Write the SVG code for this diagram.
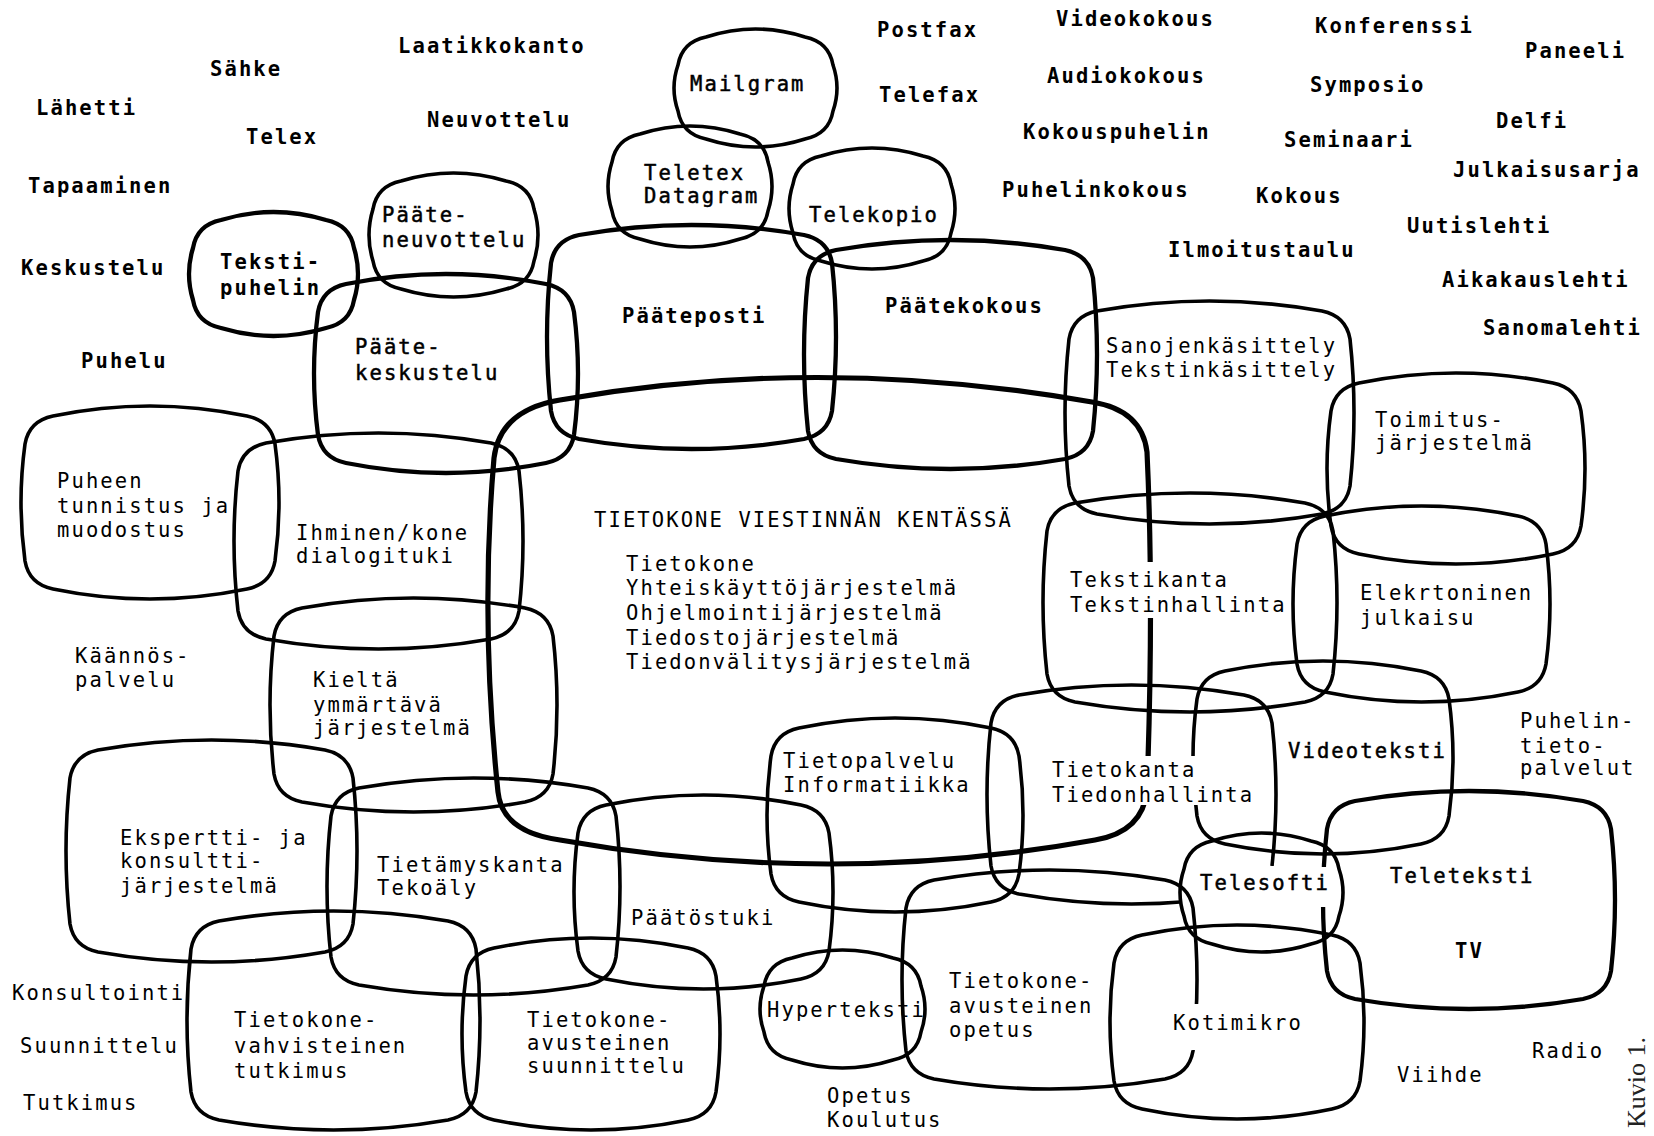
<svg xmlns="http://www.w3.org/2000/svg" width="1654" height="1136" viewBox="0 0 1654 1136">
<style>
.s{fill:none;stroke:#000;stroke-width:3.6;stroke-linejoin:round;stroke-linecap:round}
.big{stroke-width:5.2}
.w{stroke-width:4.3}
.t{font-family:'DejaVu Sans Mono','Liberation Mono',monospace;font-size:20.5px;letter-spacing:2.1px;fill:#000}
.b{font-weight:bold}
.m{stroke:#000;stroke-width:0.5}
.k{font-family:'Liberation Serif',serif;font-size:26px;fill:#222}
</style>
<defs>
<mask id="mBig" maskUnits="userSpaceOnUse" x="0" y="0" width="1654" height="1136"><rect width="1654" height="1136" fill="#fff"/><rect x="1134" y="562" width="28" height="56"/><rect x="1126" y="756" width="34" height="49"/></mask>
<mask id="mVid" maskUnits="userSpaceOnUse" x="0" y="0" width="1654" height="1136"><rect width="1654" height="1136" fill="#fff"/><rect x="1183" y="756" width="24" height="49"/></mask>
<mask id="mTk" maskUnits="userSpaceOnUse" x="0" y="0" width="1654" height="1136"><rect width="1654" height="1136" fill="#fff"/><rect x="1182" y="866" width="108" height="46"/></mask>
<mask id="mTt" maskUnits="userSpaceOnUse" x="0" y="0" width="1654" height="1136"><rect width="1654" height="1136" fill="#fff"/><rect x="1312" y="867" width="24" height="40"/></mask>
<mask id="mOp" maskUnits="userSpaceOnUse" x="0" y="0" width="1654" height="1136"><rect width="1654" height="1136" fill="#fff"/><rect x="1184" y="1004" width="24" height="46"/></mask>
</defs>
<rect width="1654" height="1136" fill="#fff"/>

<g id="n-center">
<path class="s big" mask="url(#mBig)" d="M 560 400 Q 820 354 1092 402 Q 1142 410 1147 452 Q 1154 600 1147 790 Q 1143 832 1095 840 Q 830 888 560 840 Q 502 832 498 792 Q 480 620 494 458 Q 500 410 560 400 Z"/>
<text class="t" x="594" y="527">TIETOKONE VIESTINNÄN KENTÄSSÄ</text>
<text class="t"><tspan x="626" y="571">Tietokone</tspan><tspan x="626" y="595">Yhteiskäyttöjärjestelmä</tspan><tspan x="626" y="620">Ohjelmointijärjestelmä</tspan><tspan x="626" y="645">Tiedostojärjestelmä</tspan><tspan x="626" y="669">Tiedonvälitysjärjestelmä</tspan></text>
</g>

<g id="n-mailgram"><path class="s" d="M 706 37 q 49.5 -16 99 0 q 24 5 28 28 q 8 23 0 46 q -4 23 -28 28 q -49.5 16 -99 0 q -24 -5 -28 -28 q -8 -23 0 -46 q 4 -23 28 -28 z"/><text class="t m" x="690" y="91">Mailgram</text></g>
<g id="n-teletex"><path class="s" d="M 640 134 q 50 -16 100 0 q 24 5 28 28 q 8 24.5 0 49 q -4 23 -28 28 q -50 16 -100 0 q -24 -5 -28 -28 q -8 -24.5 0 -49 q 4 -23 28 -28 z"/><text class="t m"><tspan x="644" y="180">Teletex</tspan><tspan x="644" y="203">Datagram</tspan></text></g>
<g id="n-telekopio"><path class="s" d="M 821 156 q 51 -16 102 0 q 24 5 28 28 q 8 24.5 0 49 q -4 23 -28 28 q -51 16 -102 0 q -24 -5 -28 -28 q -8 -24.5 0 -49 q 4 -23 28 -28 z"/><text class="t m" x="809" y="222">Telekopio</text></g>
<g id="n-tekstipuhelin"><path class="s w" d="M 221 220 q 52.5 -16 105 0 q 24 5 28 28 q 8 26 0 52 q -4 23 -28 28 q -52.5 16 -105 0 q -24 -5 -28 -28 q -8 -26 0 -52 q 4 -23 28 -28 z"/><text class="t b"><tspan x="220" y="269">Teksti-</tspan><tspan x="220" y="295">puhelin</tspan></text></g>
<g id="n-paateneuvottelu"><path class="s" d="M 401 181 q 52.5 -16 105 0 q 24 5 28 28 q 8 26 0 52 q -4 23 -28 28 q -52.5 16 -105 0 q -24 -5 -28 -28 q -8 -26 0 -52 q 4 -23 28 -28 z"/><text class="t m"><tspan x="382" y="222">Pääte-</tspan><tspan x="382" y="247">neuvottelu</tspan></text></g>
<g id="n-paatekeskustelu"><path class="s w" d="M 346 284 q 100 -20 200 0 q 24 5 28 28 q 8 61.5 0 123 q -4 23 -28 28 q -100 20 -200 0 q -24 -5 -28 -28 q -8 -61.5 0 -123 q 4 -23 28 -28 z"/><text class="t m"><tspan x="355" y="354">Pääte-</tspan><tspan x="355" y="380">keskustelu</tspan></text></g>
<g id="n-paateposti"><path class="s w" d="M 579 235 q 112.5 -20 225 0 q 24 5 28 28 q 8 74 0 148 q -4 23 -28 28 q -112.5 20 -225 0 q -24 -5 -28 -28 q -8 -74 0 -148 q 4 -23 28 -28 z"/><text class="t b" x="622" y="323">Pääteposti</text></g>
<g id="n-paatekokous"><path class="s w" d="M 836 250 q 114.5 -20 229 0 q 24 5 28 28 q 8 76.5 0 153 q -4 23 -28 28 q -114.5 20 -229 0 q -24 -5 -28 -28 q -8 -76.5 0 -153 q 4 -23 28 -28 z"/><text class="t b" x="885" y="313">Päätekokous</text></g>
<g id="n-sanojenkasittely"><path class="s" d="M 1097 311 q 112.5 -20 225 0 q 24 5 28 28 q 8 73.5 0 147 q -4 23 -28 28 q -112.5 20 -225 0 q -24 -5 -28 -28 q -8 -73.5 0 -147 q 4 -23 28 -28 z"/><text class="t"><tspan x="1106" y="353">Sanojenkäsittely</tspan><tspan x="1106" y="377">Tekstinkäsittely</tspan></text></g>
<g id="n-toimitus"><path class="s" d="M 1359 383 q 97 -20 194 0 q 24 5 28 28 q 8 57.5 0 115 q -4 23 -28 28 q -97 20 -194 0 q -24 -5 -28 -28 q -8 -57.5 0 -115 q 4 -23 28 -28 z"/><text class="t"><tspan x="1375" y="427">Toimitus-</tspan><tspan x="1375" y="450">järjestelmä</tspan></text></g>
<g id="n-puheen"><path class="s" d="M 53 416 q 97 -20 194 0 q 24 5 28 28 q 8 58.5 0 117 q -4 23 -28 28 q -97 20 -194 0 q -24 -5 -28 -28 q -8 -58.5 0 -117 q 4 -23 28 -28 z"/><text class="t"><tspan x="57" y="488">Puheen</tspan><tspan x="57" y="513">tunnistus ja</tspan><tspan x="57" y="537">muodostus</tspan></text></g>
<g id="n-ihminen"><path class="s" d="M 266 443 q 112.5 -20 225 0 q 24 5 28 28 q 8 70 0 140 q -4 23 -28 28 q -112.5 20 -225 0 q -24 -5 -28 -28 q -8 -70 0 -140 q 4 -23 28 -28 z"/><text class="t"><tspan x="296" y="540">Ihminen/kone</tspan><tspan x="296" y="563">dialogituki</tspan></text></g>
<g id="n-kielta"><path class="s" d="M 302 608 q 111.5 -20 223 0 q 24 5 28 28 q 8 69 0 138 q -4 23 -28 28 q -111.5 20 -223 0 q -24 -5 -28 -28 q -8 -69 0 -138 q 4 -23 28 -28 z"/><text class="t"><tspan x="313" y="687">Kieltä</tspan><tspan x="313" y="712">ymmärtävä</tspan><tspan x="313" y="735">järjestelmä</tspan></text></g>
<g id="n-tekstikanta"><path class="s" d="M 1075 503 q 115 -20 230 0 q 24 5 28 28 q 8 71.5 0 143 q -4 23 -28 28 q -115 20 -230 0 q -24 -5 -28 -28 q -8 -71.5 0 -143 q 4 -23 28 -28 z"/><text class="t"><tspan x="1070" y="587">Tekstikanta</tspan><tspan x="1070" y="612">Tekstinhallinta</tspan></text></g>
<g id="n-julkaisu"><path class="s" d="M 1325 516 q 96.5 -20 193 0 q 24 5 28 28 q 8 60 0 120 q -4 23 -28 28 q -96.5 20 -193 0 q -24 -5 -28 -28 q -8 -60 0 -120 q 4 -23 28 -28 z"/><text class="t"><tspan x="1360" y="600">Elekrtoninen</tspan><tspan x="1360" y="625">julkaisu</tspan></text></g>
<g id="n-eksperti"><path class="s" d="M 98 750 q 113.5 -20 227 0 q 24 5 28 28 q 8 73 0 146 q -4 23 -28 28 q -113.5 20 -227 0 q -24 -5 -28 -28 q -8 -73 0 -146 q 4 -23 28 -28 z"/><text class="t"><tspan x="120" y="845">Ekspertti- ja</tspan><tspan x="120" y="868">konsultti-</tspan><tspan x="120" y="893">järjestelmä</tspan></text></g>
<g id="n-tietamyskanta"><path class="s" d="M 359 788 q 114.5 -20 229 0 q 24 5 28 28 q 8 70.5 0 141 q -4 23 -28 28 q -114.5 20 -229 0 q -24 -5 -28 -28 q -8 -70.5 0 -141 q 4 -23 28 -28 z"/><text class="t"><tspan x="377" y="872">Tietämyskanta</tspan><tspan x="377" y="895">Tekoäly</tspan></text></g>
<g id="n-tietopalvelu"><path class="s" d="M 799 728 q 96 -20 192 0 q 24 5 28 28 q 8 59 0 118 q -4 23 -28 28 q -96 20 -192 0 q -24 -5 -28 -28 q -8 -59 0 -118 q 4 -23 28 -28 z"/><text class="t"><tspan x="783" y="768">Tietopalvelu</tspan><tspan x="783" y="792">Informatiikka</tspan></text></g>
<g id="n-paatostuki"><path class="s" d="M 606 805 q 97.5 -20 195 0 q 24 5 28 28 q 8 59 0 118 q -4 23 -28 28 q -97.5 20 -195 0 q -24 -5 -28 -28 q -8 -59 0 -118 q 4 -23 28 -28 z"/><text class="t" x="631" y="925">Päätöstuki</text></g>
<g id="n-vahvisteinen"><path class="s" d="M 219 921 q 114.5 -20 229 0 q 24 5 28 28 q 8 71.5 0 143 q -4 23 -28 28 q -114.5 20 -229 0 q -24 -5 -28 -28 q -8 -71.5 0 -143 q 4 -23 28 -28 z"/><text class="t"><tspan x="234" y="1027">Tietokone-</tspan><tspan x="234" y="1053">vahvisteinen</tspan><tspan x="234" y="1078">tutkimus</tspan></text></g>
<g id="n-suunnittelu"><path class="s" d="M 494 948 q 97 -20 194 0 q 24 5 28 28 q 8 58 0 116 q -4 23 -28 28 q -97 20 -194 0 q -24 -5 -28 -28 q -8 -58 0 -116 q 4 -23 28 -28 z"/><text class="t"><tspan x="527" y="1027">Tietokone-</tspan><tspan x="527" y="1050">avusteinen</tspan><tspan x="527" y="1073">suunnittelu</tspan></text></g>
<g id="n-hyperteksti"><path class="s" d="M 792 958 q 50.5 -16 101 0 q 24 5 28 28 q 8 23 0 46 q -4 23 -28 28 q -50.5 16 -101 0 q -24 -5 -28 -28 q -8 -23 0 -46 q 4 -23 28 -28 z"/><text class="t" x="767" y="1017">Hyperteksti</text></g>
<g id="n-opetus"><path class="s" mask="url(#mOp)" d="M 934 880 q 115.5 -20 231 0 q 24 5 28 28 q 8 71.5 0 143 q -4 23 -28 28 q -115.5 20 -231 0 q -24 -5 -28 -28 q -8 -71.5 0 -143 q 4 -23 28 -28 z"/><text class="t"><tspan x="949" y="988">Tietokone-</tspan><tspan x="949" y="1013">avusteinen</tspan><tspan x="949" y="1037">opetus</tspan></text></g>
<g id="n-tietokanta"><path class="s" mask="url(#mTk)" d="M 1019 695 q 112.5 -20 225 0 q 24 5 28 28 q 8 71.5 0 143 q -4 23 -28 28 q -112.5 20 -225 0 q -24 -5 -28 -28 q -8 -71.5 0 -143 q 4 -23 28 -28 z"/><text class="t"><tspan x="1052" y="777">Tietokanta</tspan><tspan x="1052" y="802">Tiedonhallinta</tspan></text></g>
<g id="n-videoteksti"><path class="s" mask="url(#mVid)" d="M 1225 671 q 98 -20 196 0 q 24 5 28 28 q 8 58.5 0 117 q -4 23 -28 28 q -98 20 -196 0 q -24 -5 -28 -28 q -8 -58.5 0 -117 q 4 -23 28 -28 z"/><text class="t m" x="1288" y="758">Videoteksti</text></g>
<g id="n-telesofti"><path class="s" d="M 1212 841 q 49.5 -16 99 0 q 24 5 28 28 q 8 23.5 0 47 q -4 23 -28 28 q -49.5 16 -99 0 q -24 -5 -28 -28 q -8 -23.5 0 -47 q 4 -23 28 -28 z"/><text class="t m" x="1200" y="890">Telesofti</text></g>
<g id="n-teleteksti"><path class="s w" mask="url(#mTt)" d="M 1355 801 q 114 -20 228 0 q 24 5 28 28 q 8 71 0 142 q -4 23 -28 28 q -114 20 -228 0 q -24 -5 -28 -28 q -8 -71 0 -142 q 4 -23 28 -28 z"/><text class="t m" x="1390" y="883">Teleteksti</text><text class="t b" x="1455" y="958">TV</text></g>
<g id="n-kotimikro"><path class="s" d="M 1142 935 q 95 -20 190 0 q 24 5 28 28 q 8 59 0 118 q -4 23 -28 28 q -95 20 -190 0 q -24 -5 -28 -28 q -8 -59 0 -118 q 4 -23 28 -28 z"/><text class="t" x="1173" y="1030">Kotimikro</text></g>

<g id="connectors"></g>

<g id="labels">
<text class="t b" x="398" y="53">Laatikkokanto</text>
<text class="t b" x="210" y="76">Sähke</text>
<text class="t b" x="36" y="115">Lähetti</text>
<text class="t b" x="427" y="127">Neuvottelu</text>
<text class="t b" x="246" y="144">Telex</text>
<text class="t b" x="28" y="193">Tapaaminen</text>
<text class="t b" x="21" y="275">Keskustelu</text>
<text class="t b" x="81" y="368">Puhelu</text>
<text class="t b" x="877" y="37">Postfax</text>
<text class="t b" x="879" y="102">Telefax</text>
<text class="t b" x="1056" y="26">Videokokous</text>
<text class="t b" x="1315" y="33">Konferenssi</text>
<text class="t b" x="1525" y="58">Paneeli</text>
<text class="t b" x="1047" y="83">Audiokokous</text>
<text class="t b" x="1310" y="92">Symposio</text>
<text class="t b" x="1496" y="128">Delfi</text>
<text class="t b" x="1023" y="139">Kokouspuhelin</text>
<text class="t b" x="1284" y="147">Seminaari</text>
<text class="t b" x="1453" y="177">Julkaisusarja</text>
<text class="t b" x="1002" y="197">Puhelinkokous</text>
<text class="t b" x="1256" y="203">Kokous</text>
<text class="t b" x="1407" y="233">Uutislehti</text>
<text class="t b" x="1168" y="257">Ilmoitustaulu</text>
<text class="t b" x="1442" y="287">Aikakauslehti</text>
<text class="t b" x="1483" y="335">Sanomalehti</text>
<text class="t"><tspan x="75" y="663">Käännös-</tspan><tspan x="75" y="687">palvelu</tspan></text>
<text class="t"><tspan x="1520" y="728">Puhelin-</tspan><tspan x="1520" y="753">tieto-</tspan><tspan x="1520" y="775">palvelut</tspan></text>
<text class="t" x="12" y="1000">Konsultointi</text>
<text class="t" x="20" y="1053">Suunnittelu</text>
<text class="t" x="23" y="1110">Tutkimus</text>
<text class="t"><tspan x="827" y="1103">Opetus</tspan><tspan x="827" y="1127">Koulutus</tspan></text>
<text class="t" x="1397" y="1082">Viihde</text>
<text class="t" x="1532" y="1058">Radio</text>
<text class="k" transform="translate(1645,1128) rotate(-90)">Kuvio 1.</text>
</g>
</svg>
